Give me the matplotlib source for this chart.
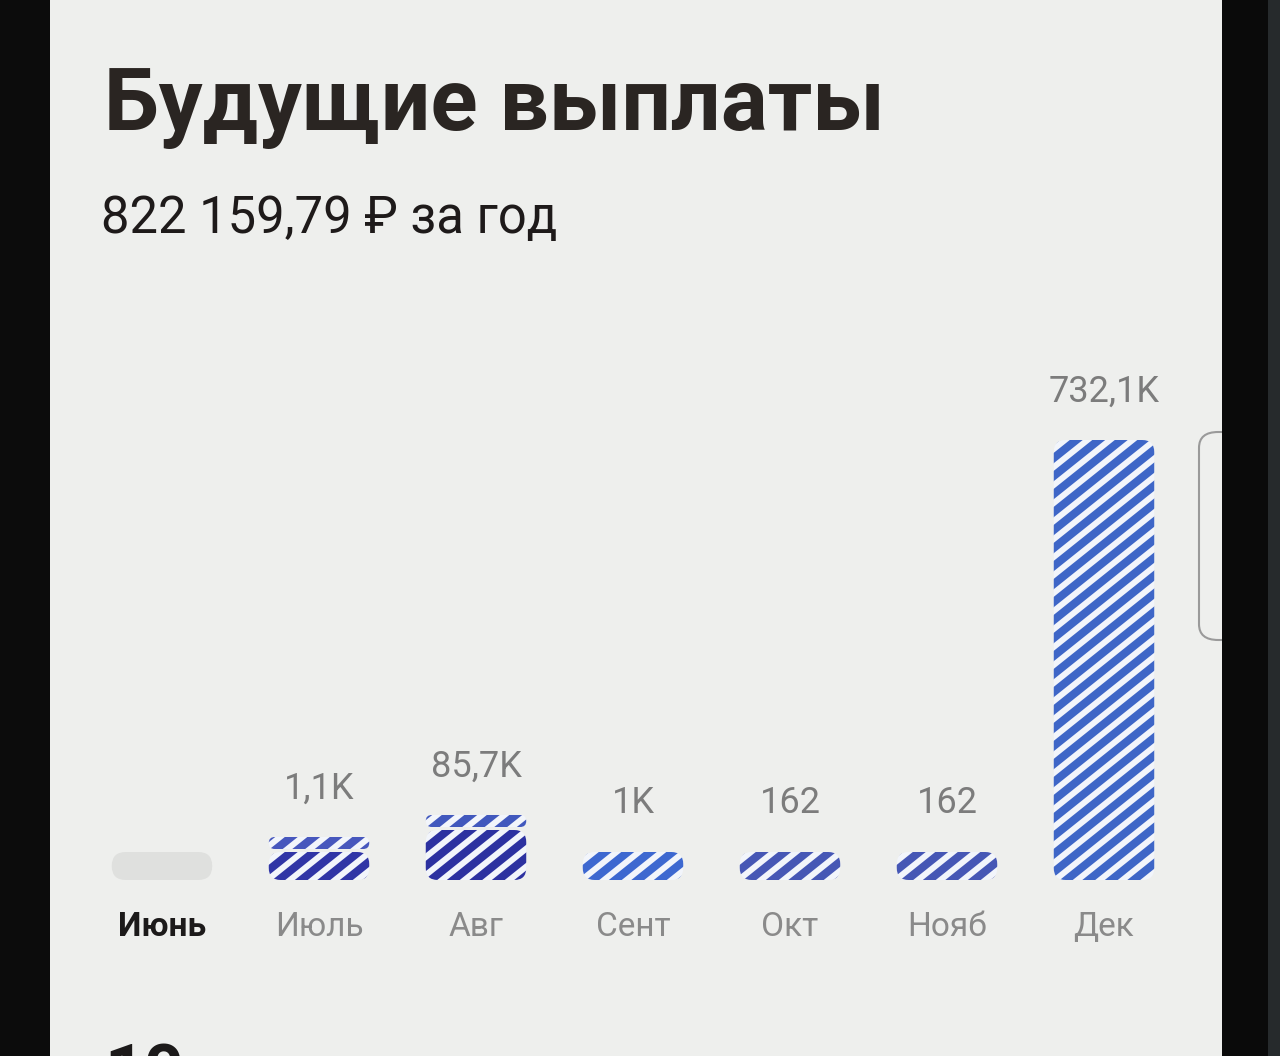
import matplotlib
matplotlib.use("Agg")
import matplotlib.pyplot as plt
from matplotlib.patches import FancyBboxPatch, Rectangle
from matplotlib.collections import LineCollection
from matplotlib.transforms import IdentityTransform
import numpy as np

plt.rcParams['font.family'] = ['Roboto', 'DejaVu Sans']

# data: planned payouts per month (rubles); some months hold two payments
months = ['Июнь', 'Июль', 'Авг', 'Сент', 'Окт', 'Нояб', 'Дек']
main_payment = [0, 800, 83200, 1000, 162, 162, 732100]
extra_payment = [0, 300, 2500, 0, 0, 0, 0]
bar_colors = ['#dfe0de', '#3035a6', '#2c31a0', '#3d68d0', '#4657b5', '#4657b5', '#3e66c7']
extra_colors = ['#dfe0de', '#4757bd', '#4158bd', '#3d68d0', '#4657b5', '#4657b5', '#3e66c7']
title = 'Будущие выплаты'
subtitle = '822 159,79 ₽ за год'

W, H = 1280, 1056
BG = '#eeefed'
STRIPE_BG = '#f2f5fb'


def short(v):
    if v >= 1000:
        s = f'{v / 1000:.1f}'.rstrip('0').rstrip('.')
        return s.replace('.', ',') + 'K'
    return str(int(v))


fig = plt.figure(figsize=(W / 100, H / 100), dpi=100, facecolor=BG)

# axes area in pixels: bars sit on y=880, Dec top near y=440
ax_l, ax_r, ax_top, ax_bot = 83.5, 1182.5, 300, 880
ax = fig.add_axes([ax_l / W, 1 - ax_bot / H, (ax_r - ax_l) / W, (ax_bot - ax_top) / H])
ax.set_facecolor(BG)
for s in ax.spines.values():
    s.set_visible(False)

x = np.arange(len(months))
ymax = 732100 * (ax_bot - ax_top) / (ax_bot - 440)
ax.set_xlim(-0.5, len(months) - 0.5)
ax.set_ylim(0, ymax)
ax.set_yticks([])

xpp = len(months) / (ax_r - ax_l)
ypp = ymax / (ax_bot - ax_top)
asp = ypp / xpp

min_main = 28 * ypp
min_extra = 12 * ypp
gap = 3 * ypp
width = 0.64

main_h = [max(v, min_main) for v in main_payment]
extra_h = [max(v, min_extra) if v > 0 else 0 for v in extra_payment]
extra_bottom = [m + gap for m in main_h]

bars_main = ax.bar(x, main_h, width=width, color='none')
bars_extra = ax.bar(x, extra_h, width=width, bottom=extra_bottom, color='none')

# diagonal stripes, in pixels
period_x = 22.5
slope = 0.8
stripe_lw = 5.8


def rounded(rect, color, radius_px, hatched=True):
    bx, by = rect.get_x(), rect.get_y()
    bw, bh = rect.get_width(), rect.get_height()
    rect.remove()
    if bh <= 0:
        return
    r = min(radius_px * xpp, bh / (2 * asp), bw / 2)
    p = FancyBboxPatch((bx, by), bw, bh, boxstyle=f'round,pad=0,rounding_size={r}',
                       mutation_aspect=asp, linewidth=0, edgecolor='none',
                       facecolor=STRIPE_BG if hatched else color)
    ax.add_patch(p)
    if not hatched:
        return
    (x0, y0), (x1, y1) = ax.transData.transform([(bx, by), (bx + bw, by + bh)])
    span = (y1 - y0) / slope
    segs = []
    for c in np.arange(x0 - span - period_x, x1 + period_x, period_x):
        segs.append([(c - 5, y0 - 5 * slope), (c + span + 5, y1 + 5 * slope)])
    lc = LineCollection(segs, colors=color, linewidths=stripe_lw,
                        transform=IdentityTransform())
    ax.add_collection(lc)
    lc.set_clip_path(p)


for i, (bm, be) in enumerate(zip(bars_main, bars_extra)):
    if main_payment[i] == 0:
        # empty month: grey pill
        rounded(bm, bar_colors[i], 15, hatched=False)
        be.remove()
        continue
    rounded(bm, bar_colors[i], 12)
    if extra_payment[i] > 0:
        rounded(be, extra_colors[i], 8)
    else:
        be.remove()
    total = main_payment[i] + extra_payment[i]
    top = main_h[i] + (gap + extra_h[i] if extra_payment[i] > 0 else 0)
    ax.annotate(short(total), (x[i], top), xytext=(0, 22), textcoords='offset points',
                ha='center', va='bottom', fontsize=26, color='#7c7c7c')

ax.set_xticks(x, months)
ax.tick_params(axis='x', length=0, pad=22, labelsize=24, labelcolor='#8a8a8a')
lbls = ax.get_xticklabels()
lbls[0].set_color('#1c1a1a')
lbls[0].set_fontweight('bold')

# headings
fig.text(104 / W, 1 - 130 / H, title, fontsize=63, fontweight='bold',
         color='#2a2522', va='baseline', ha='left')
fig.text(101 / W, 1 - 233 / H, subtitle, fontsize=36.5, color='#1e1a1a',
         va='baseline', ha='left')
# next section heading, cut by the photo edge
fig.text(104 / W, 1 - 1043 / H, '10', fontsize=50, fontweight='bold',
         color='#1c1a1a', va='top', ha='left')

# scroll handle on the right edge
fig.patches.append(FancyBboxPatch((1199 / W, 1 - 640 / H), 60 / W, 208 / H,
                                  boxstyle='round,pad=0,rounding_size=0.015',
                                  transform=fig.transFigure, facecolor='none',
                                  edgecolor='#9a9a9a', linewidth=1.5))
# phone bezels
fig.patches.append(Rectangle((0, 0), 50 / W, 1, transform=fig.transFigure,
                             facecolor='#0c0c0c', edgecolor='none'))
fig.patches.append(Rectangle((1222 / W, 0), 58 / W, 1, transform=fig.transFigure,
                             facecolor='#0a0a0a', edgecolor='none'))
fig.patches.append(Rectangle((1268 / W, 0), 12 / W, 1, transform=fig.transFigure,
                             facecolor='#262a2c', edgecolor='none'))

fig.savefig('out.png', dpi=100, facecolor=BG)
